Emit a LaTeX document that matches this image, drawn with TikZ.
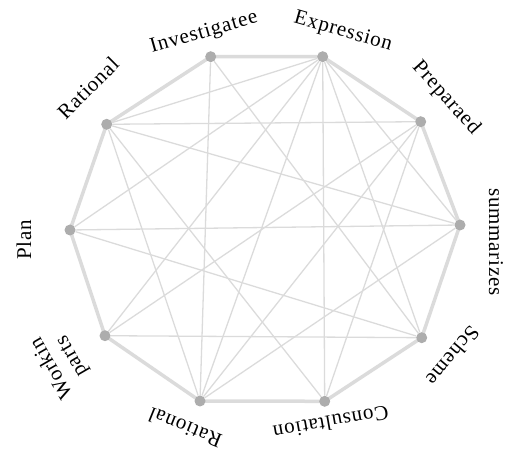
\documentclass[tikz,border=0pt]{standalone}
\usepackage{fontspec}
\setmainfont{Liberation Serif}[LetterSpace=4]
\usepackage{tikz}
\usetikzlibrary{backgrounds}

\begin{document}
\begin{tikzpicture}[
    x=1pt, y=1pt,
    font=\fontsize{21pt}{23pt}\selectfont,
    dot/.style={
        circle, inner sep=0pt,
        minimum size=11pt,
        fill=black!32
    },
    lbl/.style={inner sep=0pt, align=center},
    ring/.style={draw=black!14, line width=3.5pt, line join=round},
    chord/.style={draw=black!14, line width=1.3pt},
]
\useasboundingbox (0,0) rectangle (513,454);

% ---------- Nodes ----------
\node[dot] (investigatee) at (210.7,397.3) {};
\node[dot] (expression)   at (322.7,397.3) {};
\node[dot] (preparaed)    at (420.7,332.3) {};
\node[dot] (summarizes)   at (460,229) {};
\node[dot] (scheme)       at (421.7,116.3) {};
\node[dot] (consultation) at (324.7,52.7) {};
\node[dot] (rationalB)    at (200,53) {};
\node[dot] (workin)       at (105,118.3) {};
\node[dot] (plan)         at (70,224) {};
\node[dot] (rationalT)    at (106.7,329.7) {};

% ---------- Labels ----------
\node[lbl, rotate=16]   (lInvestigatee) at (204,421) {Investigatee};
\node[lbl, rotate=-16]  (lExpression)   at (343,422) {Expression};
\node[lbl, rotate=-48]  (lPreparaed)    at (446,356) {Preparaed};
\node[lbl, rotate=-90]  (lSummarizes)   at (496,212) {summarizes};
\node[lbl, rotate=-130] (lScheme)       at (453,98) {Scheme};
\node[lbl, rotate=-170] (lConsultation) at (331,31) {Consultation};
\node[lbl, rotate=158]  (lRationalB)    at (185,26) {Rational};
\node[lbl, rotate=120]  (lWorkin)       at (62,92) {Workin\\parts};
\node[lbl, rotate=90]   (lPlan)         at (24,214) {Plan};
\node[lbl, rotate=45]   (lRationalT)    at (88,366) {Rational};

% ---------- Edges ----------
\begin{scope}[on background layer]
% outer ring
\draw[ring] (investigatee.center) -- (expression.center) -- (preparaed.center)
    -- (summarizes.center) -- (scheme.center) -- (consultation.center)
    -- (rationalB.center) -- (workin.center) -- (plan.center)
    -- (rationalT.center) -- cycle;

% chords
\draw[chord] (investigatee) -- (rationalB);
\draw[chord] (investigatee) -- (scheme);
\foreach \t in {rationalT, summarizes, plan, workin, rationalB, consultation, scheme}
    \draw[chord] (expression) -- (\t);
\foreach \t in {rationalT, workin, consultation, rationalB}
    \draw[chord] (preparaed) -- (\t);
\foreach \t in {rationalT, plan, rationalB}
    \draw[chord] (summarizes) -- (\t);
\draw[chord] (scheme) -- (workin);
\draw[chord] (scheme) -- (plan);
\draw[chord] (consultation) -- (rationalT);
\draw[chord] (rationalB) -- (rationalT);
\end{scope}

\end{tikzpicture}
\end{document}
